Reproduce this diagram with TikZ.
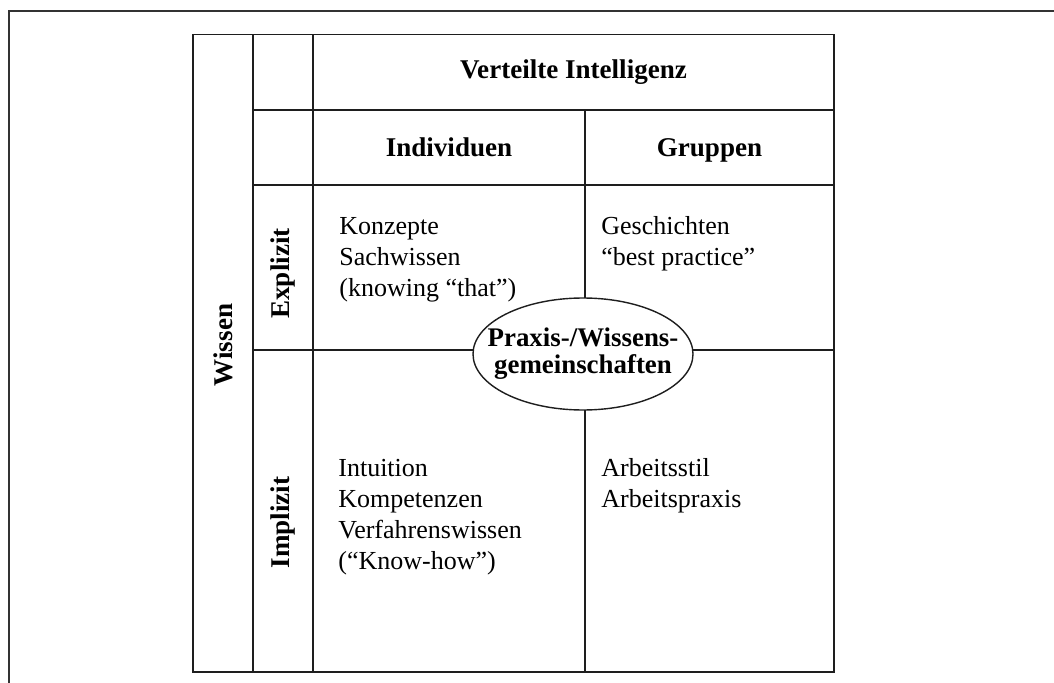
\documentclass[tikz,border=0pt]{standalone}
\usepackage{fontspec}
\setmainfont{Liberation Serif}
\usepackage{xcolor}
\definecolor{gridLine}{HTML}{1E1E1E}
\definecolor{frameLine}{HTML}{333333}
\usepackage{tikz}
\usetikzlibrary{shapes,positioning}
\tikzset{
    grid/.style={
        draw=gridLine,
        line width=0.8pt
    },
    head/.style={
        font=\fontsize{15.4}{17.6}\selectfont\bfseries,
        inner sep=0pt
    },
    side/.style={
        font=\fontsize{15.4}{17.6}\selectfont\bfseries,
        rotate=90,
        inner sep=0pt
    },
    body/.style={
        font=\fontsize{14.8}{17.6}\selectfont,
        align=left,
        anchor=north west,
        inner sep=0pt
    },
    bubble/.style={
        draw=gridLine,
        fill=white,
        ellipse,
        line width=0.8pt,
        minimum width=4.4cm,
        minimum height=2.24cm,
        inner xsep=-12pt,
        inner ysep=0pt,
        align=center,
        font=\fontsize{15.3}{15.4}\selectfont\bfseries
    }
}

\begin{document}
\begin{tikzpicture}
    \useasboundingbox (0,0) rectangle (21.08,-13.66);
    % Frame
    \draw[grid, draw=frameLine] (0.18,-13.66) -- (0.18,-0.22) -- (21.08,-0.22);

    % Table grid
    \draw[grid] (3.86,-0.69) rectangle (16.68,-13.44);
    \draw[grid] (5.06,-0.69) -- (5.06,-13.44);
    \draw[grid] (6.26,-0.69) -- (6.26,-13.44);
    \draw[grid] (11.70,-2.2) -- (11.70,-13.44);
    \foreach \y in {-2.2,-3.7,-7.0}
        \draw[grid] (5.06,\y) -- (16.68,\y);

    % Column heads
    \node[head] (vi) at (11.47,-1.445) {Verteilte Intelligenz};
    \node[head, anchor=base] (ind) at (8.98,-3.13) {Individuen};
    \node[head, anchor=base] (grp) at (14.19,-3.13) {Gruppen};

    % Row heads
    \node[side] (wis) at (4.46,-6.9) {Wissen};
    \node[side] (exp) at (5.66,-5.47) {Explizit};
    \node[side] (imp) at (5.66,-10.45) {Implizit};

    % Cells
    \node[body] (indexp) at (6.78,-4.34) {Konzepte\\Sachwissen\\(knowing “that”)};
    \node[body] (grpexp) at (12.02,-4.32) {Geschichten\\“best practice”};
    \node[body] (indimp) at (6.76,-9.18) {Intuition\\Kompetenzen\\Verfahrenswissen\\(“Know-how”)};
    \node[body] (grpimp) at (12.02,-9.16) {Arbeitsstil\\Arbeitspraxis};

    % Communities
    \node[bubble] (cop) at (11.66,-7.08) {Praxis-/Wissens-\\gemeinschaften};
\end{tikzpicture}
\end{document}
